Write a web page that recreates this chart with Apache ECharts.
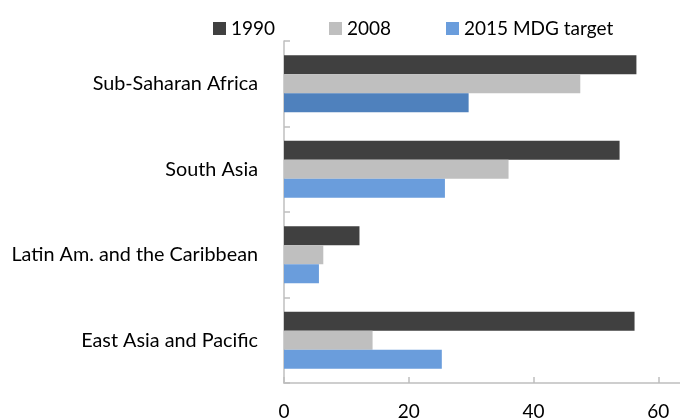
<!DOCTYPE html>
<html>
<head>
<meta charset="utf-8">
<script src="https://cdn.jsdelivr.net/npm/echarts@6/dist/echarts.min.js"></script>
<style>
  html, body { margin: 0; padding: 0; background: #fff; }
  #chart { width: 680px; height: 419px; }
</style>
</head>
<body>
<div id="chart"></div>
<script>
// regions, top to bottom
const regions = ["Sub-Saharan Africa", "South Asia", "Latin Am. and the Caribbean", "East Asia and Pacific"];
const seriesNames = ["1990", "2008", "2015 MDG target"];
const values1990 = [56.5, 53.8, 12.1, 56.2];
const values2008 = [47.5, 36.0, 6.3, 14.2];
const valuesTarget = [29.6, 25.8, 5.6, 25.3];
const xTicks = [0, 20, 40, 60];

const font = "Lato";
const colors = ["#404040", "#bfbfbf", "#6a9ddc"];

const chart = echarts.init(document.getElementById("chart"));

// one legend per item so each can sit where it is in the picture
const legendLeft = [208, 324, 441];
const legends = seriesNames.map((name, i) => ({
  data: [name],
  left: legendLeft[i],
  top: 14,
  icon: "rect",
  itemWidth: 13,
  itemHeight: 13,
  textStyle: { fontFamily: font, fontSize: 19, color: "#000" },
  selectedMode: false
}));

const targetData = valuesTarget.map((v, i) =>
  i === 0 ? { value: v, itemStyle: { color: "#4f81bd" } } : v
);

chart.setOption({
  animation: false,
  legend: legends,
  grid: {
    left: 284,
    top: 41,
    width: 499,   // runs past the right edge, like the original
    height: 342,
    containLabel: false,
    outerBoundsMode: "none"
  },
  xAxis: {
    type: "value",
    min: 0,
    max: 80,
    interval: 20,
    axisLine: { show: true, lineStyle: { color: "#bfbfbf", width: 1.5 } },
    axisTick: { show: true, inside: true, length: 6, lineStyle: { color: "#bfbfbf", width: 1.5 } },
    splitLine: { show: false },
    axisLabel: {
      margin: 19,
      color: "#000",
      fontFamily: font,
      fontSize: 19,
      formatter: v => (xTicks.includes(v) ? String(v) : "")
    }
  },
  yAxis: {
    type: "category",
    data: regions,
    inverse: true,
    axisLine: { show: true, lineStyle: { color: "#bfbfbf", width: 1.5 } },
    axisTick: { show: true, inside: true, length: 6, lineStyle: { color: "#bfbfbf", width: 1.5 } },
    axisLabel: { margin: 26, color: "#000", fontFamily: font, fontSize: 19.8 }
  },
  series: [
    { name: seriesNames[0], type: "bar", data: values1990, barWidth: 19, barGap: "0%", itemStyle: { color: colors[0] } },
    { name: seriesNames[1], type: "bar", data: values2008, barWidth: 19, barGap: "0%", itemStyle: { color: colors[1] } },
    { name: seriesNames[2], type: "bar", data: targetData, barWidth: 19, barGap: "0%", itemStyle: { color: colors[2] } }
  ]
});
</script>
</body>
</html>
